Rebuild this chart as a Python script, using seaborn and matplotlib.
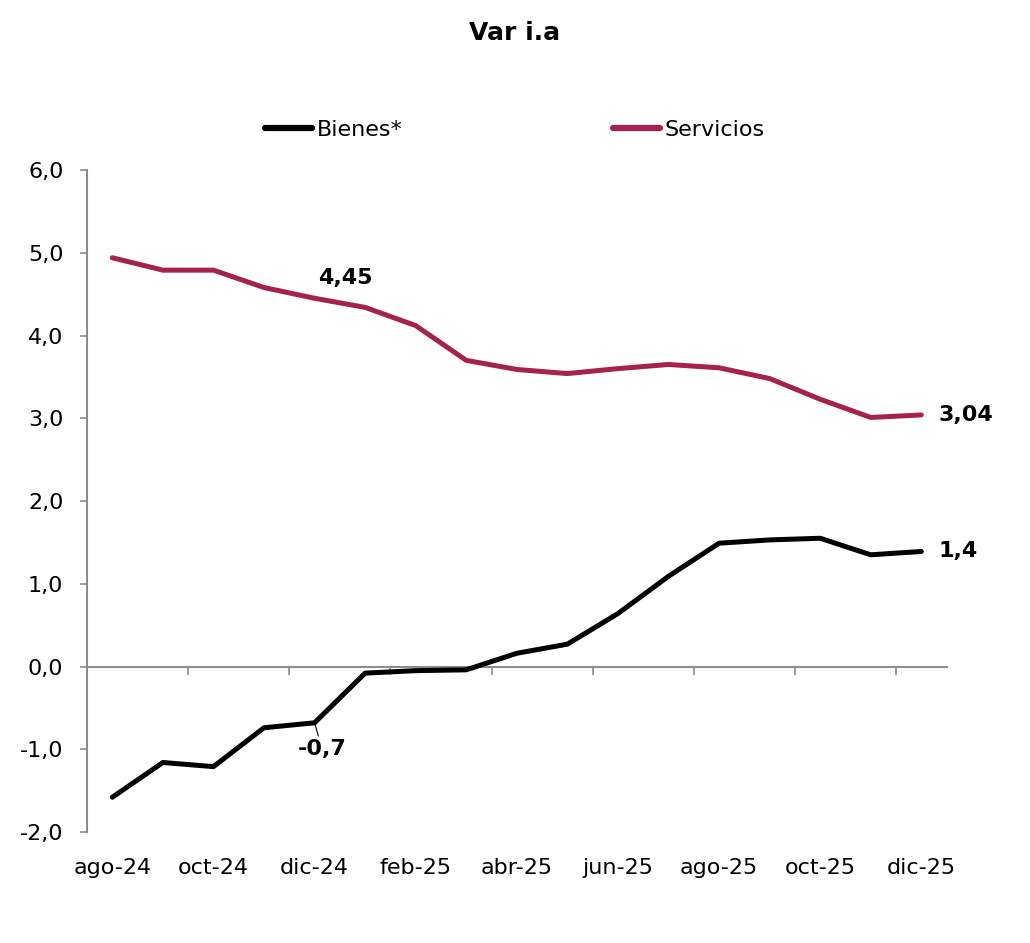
import pandas as pd
import matplotlib
matplotlib.use("Agg")
import matplotlib.pyplot as plt
import seaborn as sns

sns.set_theme(style="white")
plt.rcParams['font.family'] = ['DejaVu Sans']
plt.rcParams['text.color'] = 'black'
plt.rcParams['xtick.color'] = 'black'
plt.rcParams['ytick.color'] = 'black'

# data
months = ['ago-24', 'sep-24', 'oct-24', 'nov-24', 'dic-24', 'ene-25', 'feb-25', 'mar-25',
          'abr-25', 'may-25', 'jun-25', 'jul-25', 'ago-25', 'sep-25', 'oct-25', 'nov-25', 'dic-25']
bienes = [-1.58, -1.16, -1.21, -0.74, -0.68, -0.08, -0.05, -0.04,
          0.16, 0.27, 0.64, 1.09, 1.49, 1.53, 1.55, 1.35, 1.39]
servicios = [4.94, 4.79, 4.79, 4.58, 4.45, 4.34, 4.12, 3.70,
             3.59, 3.54, 3.60, 3.65, 3.61, 3.48, 3.23, 3.01, 3.04]

BLACK = '#000000'
WINE = '#A6224B'
GREY = '#8C8C8C'

df = pd.DataFrame({'pos': range(len(months)), 'mes': months,
                   'Bienes*': bienes, 'Servicios': servicios})
long = df.melt(id_vars=['pos', 'mes'], var_name='serie', value_name='valor')

fig = plt.figure(figsize=(10.3, 9.43), dpi=100)
ax = fig.add_axes([0.0845, 0.1177, 0.8345, 0.702])

sns.lineplot(data=long, x='pos', y='valor', hue='serie',
             palette={'Bienes*': BLACK, 'Servicios': WINE},
             linewidth=3.6, ax=ax, legend=False)

ax.set_xlim(-0.5, len(months) - 0.5)
ax.set_ylim(-2, 6)
ax.set_yticks(range(-2, 7))
ax.set_yticklabels([f'{v:.1f}'.replace('.', ',') for v in range(-2, 7)], fontsize=16)
ax.set_xlabel('')
ax.set_ylabel('')

# category labels along the bottom
ax.set_xticks(range(0, len(months), 2))
ax.set_xticklabels(months[::2], fontsize=16)
ax.tick_params(axis='x', length=0, pad=19)
ax.tick_params(axis='y', length=5, width=1.2, color=GREY, direction='out', pad=12, left=True)

for s in ['top', 'right', 'bottom']:
    ax.spines[s].set_visible(False)
ax.spines['left'].set_color(GREY)
ax.spines['left'].set_linewidth(1.5)

# zero axis with tick marks between categories
zero = ax.secondary_xaxis(0.25)
zero.set_xticks([i + 0.5 for i in range(1, len(months) - 1, 2)])
zero.set_xticklabels([])
zero.tick_params(length=6, width=1.2, color=GREY, direction='out')
zero.spines['bottom'].set_color(GREY)
zero.spines['bottom'].set_linewidth(1.5)

# data labels
ax.text(4.6, servicios[4] + 0.25, '4,45', fontsize=16, fontweight='bold', ha='center', va='center')
ax.text(len(months) - 1 + 0.35, servicios[-1], '3,04', fontsize=16, fontweight='bold', ha='left', va='center')
ax.text(len(months) - 1 + 0.35, bienes[-1], '1,4', fontsize=16, fontweight='bold', ha='left', va='center')
ax.annotate('-0,7', xy=(4, bienes[4]), xytext=(4.15, -1.0), fontsize=16, fontweight='bold',
            ha='center', va='center',
            arrowprops=dict(arrowstyle='-', color=BLACK, lw=0.8, shrinkA=10, shrinkB=2))

# legend
handles = [plt.Line2D([], [], color=BLACK, lw=4.5, solid_capstyle='round'),
           plt.Line2D([], [], color=WINE, lw=4.5, solid_capstyle='round')]
fig.legend(handles, ['Bienes*', 'Servicios'], loc='center', bbox_to_anchor=(0.5, 0.862),
           ncol=2, frameon=False, fontsize=16, handlelength=2.1, handletextpad=0.2,
           columnspacing=9.5)

fig.suptitle('Var i.a', x=0.5, y=0.965, va='center', fontsize=18, fontweight='bold')

fig.savefig('out.png', dpi=100)
